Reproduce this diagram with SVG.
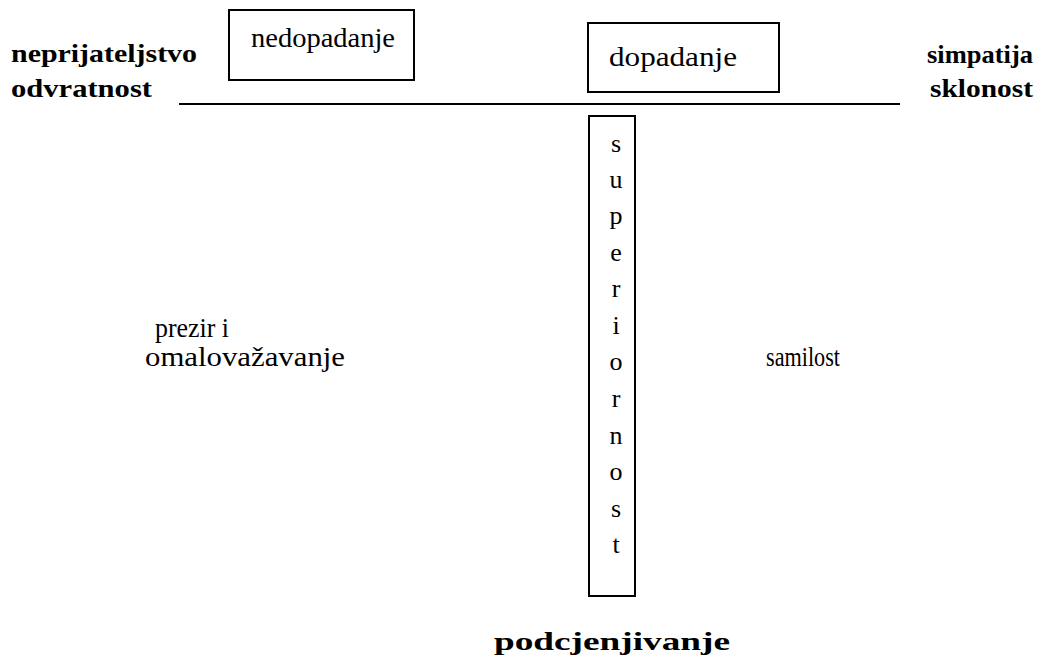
<svg xmlns="http://www.w3.org/2000/svg" width="1045" height="658" viewBox="0 0 1045 658">
<style>
.t{font-size:27px;fill:#000}
.b{font-size:26px;font-weight:bold;fill:#000}
.box{fill:#fff;stroke:#000;stroke-width:2}
.ln{stroke:#000;stroke-width:2;fill:none}
.v{font-size:26px;fill:#000;text-anchor:middle}
</style>
<rect width="1045" height="658" fill="#fff"/>
<g font-family="'Liberation Serif', 'Times New Roman', serif">
<g id="connectors">
<line class="ln" x1="179" y1="104" x2="900" y2="104"/>
</g>
<g id="left-label">
<text class="b" x="11" y="62" textLength="186" lengthAdjust="spacingAndGlyphs">neprijateljstvo</text>
<text class="b" x="11" y="97" textLength="141" lengthAdjust="spacingAndGlyphs">odvratnost</text>
</g>
<g id="right-label">
<text class="b" x="927" y="63" textLength="106" lengthAdjust="spacingAndGlyphs">simpatija</text>
<text class="b" x="930" y="97" textLength="103" lengthAdjust="spacingAndGlyphs">sklonost</text>
</g>
<g id="nedopadanje">
<rect class="box" x="229" y="10" width="185" height="70"/>
<text class="t" x="251" y="47" textLength="144" lengthAdjust="spacingAndGlyphs">nedopadanje</text>
</g>
<g id="dopadanje">
<rect class="box" x="588" y="23" width="191" height="69"/>
<text class="t" x="609" y="66" textLength="128" lengthAdjust="spacingAndGlyphs">dopadanje</text>
</g>
<g id="superiornost">
<rect class="box" x="589" y="116" width="46" height="480"/>
<text class="v" x="616" y="152">s</text>
<text class="v" x="616" y="188">u</text>
<text class="v" x="616" y="224">p</text>
<text class="v" x="616" y="261">e</text>
<text class="v" x="616" y="297">r</text>
<text class="v" x="616" y="334">i</text>
<text class="v" x="616" y="370">o</text>
<text class="v" x="616" y="407">r</text>
<text class="v" x="616" y="444">n</text>
<text class="v" x="616" y="480">o</text>
<text class="v" x="616" y="517">s</text>
<text class="v" x="616" y="553">t</text>
</g>
<g id="prezir">
<text class="t" x="155" y="337" textLength="74" lengthAdjust="spacingAndGlyphs">prezir  i</text>
<text class="t" x="145" y="366" textLength="200" lengthAdjust="spacingAndGlyphs">omalovažavanje</text>
</g>
<g id="samilost">
<text class="t" x="766" y="366" textLength="74" lengthAdjust="spacingAndGlyphs">samilost</text>
</g>
<g id="podcjenjivanje">
<text class="b" x="494" y="650" textLength="236" lengthAdjust="spacingAndGlyphs">podcjenjivanje</text>
</g>
</g>
</svg>
